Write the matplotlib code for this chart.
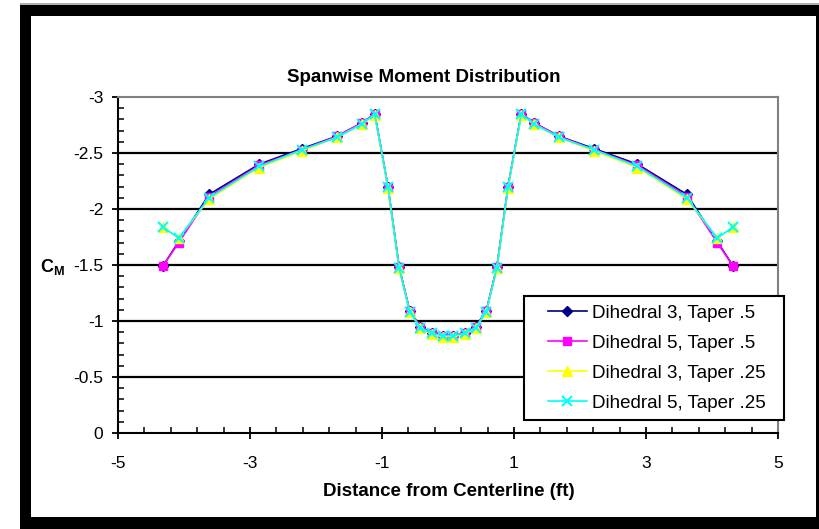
import numpy as np
import matplotlib.pyplot as plt
from matplotlib.patches import Rectangle
from matplotlib.lines import Line2D
from matplotlib.legend_handler import HandlerLine2D
from matplotlib.ticker import FixedLocator

plt.rcParams['font.family'] = ['Liberation Sans', 'DejaVu Sans']
plt.rcParams['mathtext.fontset'] = 'custom'
plt.rcParams['mathtext.bf'] = 'Liberation Sans:bold'
plt.rcParams['mathtext.rm'] = 'Liberation Sans'

# distance from centerline (ft)
span = [-4.32, -4.08, -3.62, -2.86, -2.21, -1.68, -1.30, -1.11, -0.91, -0.74,
        -0.58, -0.42, -0.25, -0.08, 0.08, 0.25, 0.42, 0.58, 0.74, 0.91,
        1.11, 1.30, 1.68, 2.21, 2.87, 3.62, 4.08, 4.32]

cm_d3_t50 = [-1.49, -1.71, -2.13, -2.40, -2.54, -2.65, -2.77, -2.85, -2.20, -1.48,
             -1.09, -0.95, -0.89, -0.87, -0.87, -0.89, -0.95, -1.09, -1.48, -2.20,
             -2.85, -2.77, -2.65, -2.54, -2.40, -2.13, -1.71, -1.49]
cm_d5_t50 = [-1.49, -1.70, -2.11, -2.39, -2.53, -2.65, -2.77, -2.85, -2.20, -1.48,
             -1.09, -0.95, -0.89, -0.87, -0.87, -0.89, -0.95, -1.09, -1.48, -2.20,
             -2.85, -2.77, -2.65, -2.53, -2.39, -2.11, -1.70, -1.49]
cm_d3_t25 = [-1.84, -1.74, -2.09, -2.37, -2.52, -2.64, -2.76, -2.84, -2.19, -1.47,
             -1.08, -0.94, -0.88, -0.86, -0.86, -0.88, -0.94, -1.08, -1.47, -2.19,
             -2.84, -2.76, -2.64, -2.52, -2.37, -2.09, -1.74, -1.84]
cm_d5_t25 = [-1.84, -1.74, -2.10, -2.38, -2.53, -2.64, -2.76, -2.85, -2.20, -1.47,
             -1.08, -0.94, -0.89, -0.87, -0.87, -0.89, -0.94, -1.08, -1.47, -2.20,
             -2.85, -2.76, -2.64, -2.53, -2.38, -2.10, -1.74, -1.84]

labels = ['Dihedral 3, Taper .5', 'Dihedral 5, Taper .5',
          'Dihedral 3, Taper .25', 'Dihedral 5, Taper .25']

x_ticks = [-5, -3, -1, 1, 3, 5]
y_ticks = [0, -0.5, -1, -1.5, -2, -2.5, -3]
y_ticklabels = ['0', '-0.5', '-1', '-1.5', '-2', '-2.5', '-3']

W, H = 819, 529
fig = plt.figure(figsize=(W / 100, H / 100), dpi=100)


def px_rect(x0, y0, x1, y1, color):
    fig.patches.append(Rectangle((x0 / W, 1 - y1 / H), (x1 - x0) / W, (y1 - y0) / H,
                                 transform=fig.transFigure, facecolor=color,
                                 edgecolor='none', zorder=0))


# outer frame
px_rect(20, 3.5, 819, 5, '#b0b0b0')
px_rect(20, 5, 31, 529, 'black')
px_rect(20, 5, 819, 16, 'black')
px_rect(816, 5, 819, 529, 'black')
px_rect(20, 517, 819, 529, 'black')

ax = fig.add_axes([118 / W, 1 - 433 / H, 660 / W, 336 / H])
ax.set_xlim(-5, 5)
ax.set_ylim(0, -3)

for y in y_ticks[1:-1]:
    ax.axhline(y, color='black', lw=1.6, zorder=1)

ax.plot(span, cm_d3_t50, color='#000080', marker='D', ms=5, lw=1.2, zorder=3, label=labels[0])
ax.plot(span, cm_d5_t50, color='#ff00ff', marker='s', ms=5.5, lw=1.2, zorder=4, label=labels[1])
ax.plot(span, cm_d3_t25, color='#ffff00', marker='^', ms=6.5, lw=1.2, zorder=5, label=labels[2])
ax.plot(span, cm_d5_t25, color='#00ffff', marker='x', ms=6.5, mew=1.5, lw=1.2, zorder=6, label=labels[3])

ax.set_xticks(x_ticks)
ax.set_xticklabels([str(t) for t in x_ticks])
ax.set_yticks(y_ticks)
ax.set_yticklabels(y_ticklabels)
ax.xaxis.set_minor_locator(FixedLocator(np.arange(-5, 5.01, 0.4)))
ax.yaxis.set_minor_locator(FixedLocator(np.arange(-3, 0.01, 0.1)))
ax.tick_params(which='major', direction='inout', length=9, width=1.3, labelsize=12.5)
ax.tick_params(axis='x', which='major', pad=12)
ax.tick_params(axis='y', which='major', pad=6)
ax.tick_params(which='minor', direction='in', length=4, width=1.1)

for side in ['left', 'bottom']:
    ax.spines[side].set_linewidth(1.5)
    ax.spines[side].set_color('black')
for side in ['top', 'right']:
    ax.spines[side].set_linewidth(1.5)
    ax.spines[side].set_color('#808080')

fig.text(424 / W, 1 - 77 / H, 'Spanwise Moment Distribution', ha='center', va='center',
         fontsize=13.5, fontweight='bold')
fig.text(449 / W, 1 - 492 / H, 'Distance from Centerline (ft)', ha='center', va='center',
         fontsize=13.5, fontweight='bold')
fig.text(65 / W, 1 - 267 / H, r'$\mathbf{C}_\mathbf{M}$', ha='right', va='center', fontsize=13)

leg = ax.legend(loc='upper left', bbox_to_anchor=(524 / W, 1 - 417 / H, 260 / W, 121 / H),
                bbox_transform=fig.transFigure, mode='expand', fontsize=13.5,
                fancybox=False, framealpha=1, edgecolor='black', borderpad=0.45,
                handlelength=2.9, handletextpad=0.27, labelspacing=0.69,
                borderaxespad=0, handler_map={Line2D: HandlerLine2D(xpad=0.82)})
leg.get_frame().set_linewidth(1.5)

fig.savefig('out.png', dpi=100)
